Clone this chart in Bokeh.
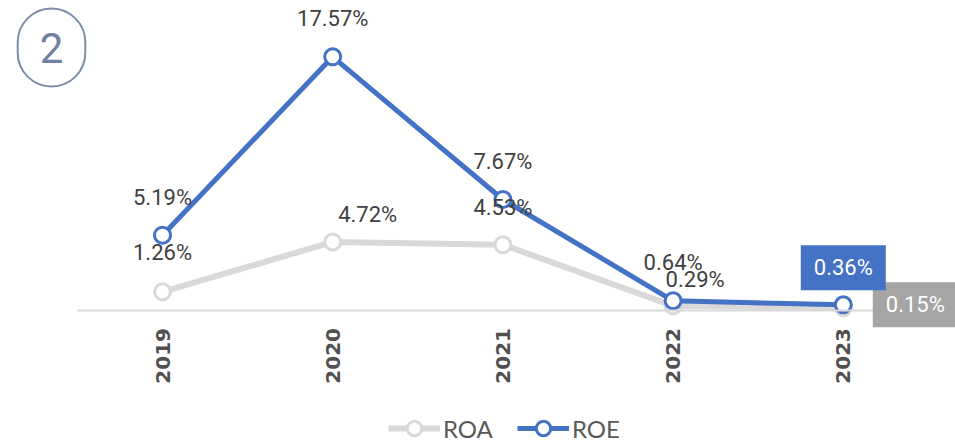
import math
from bokeh.plotting import figure
from bokeh.models import Range1d, FixedTicker, Label, Legend, LegendItem
from bokeh.embed import file_html
from bokeh.resources import INLINE

years = ["2019", "2020", "2021", "2022", "2023"]
roa = [1.26, 4.72, 4.53, 0.29, 0.15]
roe = [5.19, 17.57, 7.67, 0.64, 0.36]
roa_text = [f"{v:.2f}%" for v in roa]
roe_text = [f"{v:.2f}%" for v in roe]

# label placement (screen px offsets) - styling only
roe_off = [(0, 38), (0, 38), (0, 38), (0, 38), (0, 37)]
roa_off = [(0, 39), (35, 27), (0, 37), (22, 26), (72, 3)]
roe_box = [False, False, False, False, True]
roa_box = [False, False, False, False, True]

FONT = "Roboto"
BLUE = "#4472C4"
GREY = "#D9D9D9"

xs = list(range(len(years)))

W, H = 955, 443
px_x = 170.2   # pixels per category
px_y = 14.41   # pixels per percentage point
x0_px, y0_px = 162, 309.5
x_lo = -x0_px / px_x
y_hi = y0_px / px_y

p = figure(width=W, height=H, output_backend="svg", toolbar_location=None,
           x_range=Range1d(x_lo, x_lo + W / px_x),
           y_range=Range1d(y_hi - H / px_y, y_hi),
           min_border_left=0, min_border_right=0, min_border_top=0,
           min_border_bottom=0)
p.outline_line_color = None
p.grid.visible = False
p.yaxis.visible = False
p.background_fill_color = "white"

xa = p.xaxis[0]
xa.fixed_location = 0
xa.bounds = (-0.5, len(years) - 0.5)
xa.ticker = FixedTicker(ticks=xs)
xa.major_label_overrides = {i: y for i, y in enumerate(years)}
xa.major_label_orientation = math.pi / 2
xa.major_label_text_font = "DejaVu Sans"
xa.major_label_text_font_style = "bold"
xa.major_label_text_font_size = "20px"
xa.major_label_text_color = "#505050"
xa.major_label_standoff = 12
xa.major_tick_line_color = None
xa.minor_tick_line_color = None
xa.axis_line_color = GREY
xa.axis_line_width = 2

roa_l = p.line(xs, roa, line_color=GREY, line_width=6)
roa_s = p.scatter(xs, roa, size=16, line_color=GREY, line_width=3, fill_color="white")
roe_l = p.line(xs, roe, line_color=BLUE, line_width=5)
roe_s = p.scatter(xs, roe, size=16, line_color=BLUE, line_width=3, fill_color="white")

def add_labels(vals, texts, offs, boxes, box_color):
    for x, v, t, (dx, dy), b in zip(xs, vals, texts, offs, boxes):
        kw = dict(x=x, y=v, x_offset=dx, y_offset=dy, text=t,
                  text_align="center", text_baseline="middle",
                  text_font=FONT, text_font_size="22px")
        if b:
            kw.update(text_color="white", background_fill_color=box_color,
                      padding=dict(left=13, right=13, top=10, bottom=10))
        else:
            kw.update(text_color="#404040")
        p.add_layout(Label(**kw))

add_labels(roa, roa_text, roa_off, roa_box, "#A5A5A5")
add_labels(roe, roe_text, roe_off, roe_box, BLUE)

# circled number badge
p.add_layout(Label(x=51, y=H - 47, x_units="screen", y_units="screen", text="2",
                   text_align="center", text_baseline="middle",
                   text_font=FONT, text_font_size="42px", text_color="#7180A0",
                   border_line_color="#7F8CA8", border_line_width=2,
                   border_radius=36,
                   padding=dict(left=22, right=22, top=24, bottom=24)))

legend = Legend(items=[LegendItem(label="ROA", renderers=[roa_l, roa_s]),
                       LegendItem(label="ROE", renderers=[roe_l, roe_s])],
                orientation="horizontal", location=(388, -3),
                glyph_width=52, glyph_height=36, label_standoff=3, spacing=24,
                label_text_font="Lato", label_text_font_size="24px",
                label_text_color="#595959", border_line_color=None,
                background_fill_alpha=0, margin=0, padding=0)
p.add_layout(legend)

open("out.html", "w").write(file_html(p, INLINE))
